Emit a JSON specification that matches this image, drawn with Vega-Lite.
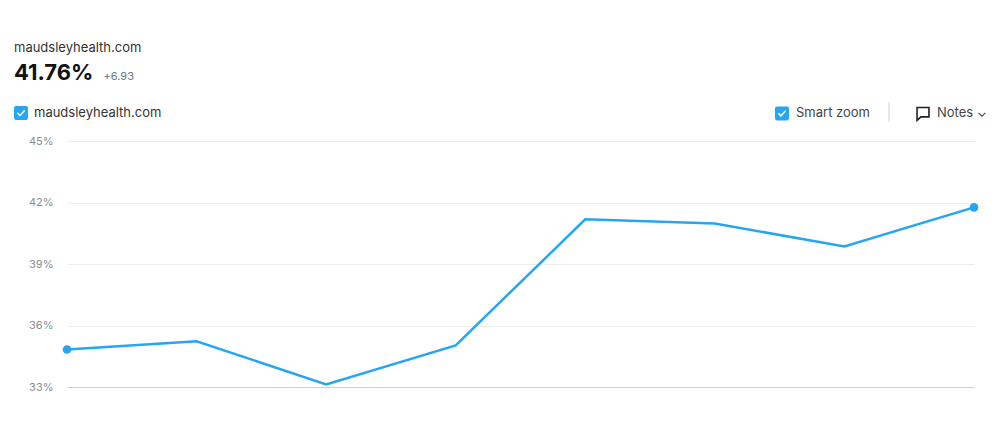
{
  "$schema": "https://vega.github.io/schema/vega-lite/v6.json",
  "autosize": {"type": "none"},
  "width": 907,
  "height": 246,
  "padding": {"left": 67, "top": 141, "right": 26, "bottom": 35},
  "background": "#ffffff",
  "config": {
    "font": "Inter",
    "view": {"stroke": null}
  },
  "title": {
    "text": "maudsleyhealth.com",
    "subtitle": "41.76%",
    "anchor": "start",
    "frame": "group",
    "dx": -53,
    "offset": -14,
    "font": "Inter",
    "fontSize": 13,
    "fontWeight": "normal",
    "color": "#333333",
    "subtitleFont": "Inter",
    "subtitleFontSize": 22,
    "subtitleFontWeight": "bold",
    "subtitleColor": "#111111",
    "subtitlePadding": 8
  },
  "data": {
    "values": [
      {"site": "maudsleyhealth.com", "index": 1, "share": 34.83},
      {"site": "maudsleyhealth.com", "index": 2, "share": 35.23},
      {"site": "maudsleyhealth.com", "index": 3, "share": 33.13},
      {"site": "maudsleyhealth.com", "index": 4, "share": 35.03},
      {"site": "maudsleyhealth.com", "index": 5, "share": 41.18},
      {"site": "maudsleyhealth.com", "index": 6, "share": 40.97},
      {"site": "maudsleyhealth.com", "index": 7, "share": 39.86},
      {"site": "maudsleyhealth.com", "index": 8, "share": 41.76}
    ]
  },
  "encoding": {
    "x": {
      "field": "index",
      "type": "quantitative",
      "scale": {"domain": [1, 8], "nice": false, "zero": false},
      "axis": {
        "title": null,
        "labels": false,
        "ticks": false,
        "grid": false,
        "domain": true,
        "domainColor": "#cfcfcf",
        "domainWidth": 1
      }
    },
    "y": {
      "field": "share",
      "type": "quantitative",
      "scale": {"domain": [33, 45], "nice": false, "zero": false},
      "axis": {
        "values": [33, 36, 39, 42, 45],
        "labelExpr": "datum.value + '%'",
        "labelFont": "Inter",
        "labelFontSize": 11,
        "labelColor": "#8c8c8c",
        "labelPadding": 14,
        "ticks": false,
        "domain": false,
        "gridColor": "#ececec",
        "gridWidth": 1,
        "title": "+6.93",
        "titleAngle": 0,
        "titleAlign": "left",
        "titleBaseline": "alphabetic",
        "titleX": 36,
        "titleY": -62,
        "titleFont": "Inter",
        "titleFontSize": 11,
        "titleFontWeight": "normal",
        "titleColor": "#6b7a89"
      }
    }
  },
  "layer": [
    {
      "mark": {"type": "line", "color": "#26a6f2", "strokeWidth": 2.5, "strokeJoin": "miter"}
    },
    {
      "transform": [{"filter": "datum.index == 1 || datum.index == 8"}],
      "mark": {"type": "point", "filled": true, "size": 75, "opacity": 1},
      "encoding": {
        "color": {
          "field": "site",
          "type": "nominal",
          "scale": {"range": ["#26a6f2"]},
          "legend": {
            "title": null,
            "orient": "none",
            "legendX": -53,
            "legendY": -35,
            "symbolType": "M-1,-0.7Q-1,-1,-0.7,-1H0.7Q1,-1,1,-0.7V0.7Q1,1,0.7,1H-0.7Q-1,1,-1,0.7Z M-0.6,0.05L-0.15,0.5L0.6,-0.3L0.45,-0.45L-0.15,0.2L-0.45,-0.1Z",
            "symbolSize": 196,
            "symbolStrokeWidth": 0,
            "symbolOpacity": 1,
            "labelFont": "Inter",
            "labelFontSize": 13,
            "labelColor": "#333333",
            "labelOffset": 6
          }
        }
      }
    },
    {
      "mark": {"type": "point", "opacity": 0, "strokeWidth": 1.6},
      "encoding": {
        "x": {"value": 0},
        "y": {"value": 0},
        "shape": {
          "datum": "Smart zoom",
          "scale": {
            "domain": ["Smart zoom", "sep", "Notes ⌄"],
            "range": [
              "M-1,-0.7Q-1,-1,-0.7,-1H0.7Q1,-1,1,-0.7V0.7Q1,1,0.7,1H-0.7Q-1,1,-1,0.7Z M-0.6,0.05L-0.15,0.5L0.6,-0.3L0.45,-0.45L-0.15,0.2L-0.45,-0.1Z",
              "M0,-1.4V1.4",
              "M-0.85,-0.85H0.85V0.5H-0.3L-0.85,1Z"
            ]
          },
          "legend": {
            "title": null,
            "orient": "none",
            "direction": "horizontal",
            "legendX": 707,
            "legendY": -37,
            "symbolSize": 196,
            "symbolStrokeWidth": 1.6,
            "symbolOpacity": 1,
            "columnPadding": 10,
            "labelOffset": 6,
            "labelFont": "Inter",
            "labelFontSize": 13,
            "labelColor": "#444444",
            "labelExpr": "datum.value == 'sep' ? '' : datum.value"
          }
        },
        "fill": {
          "datum": "Smart zoom",
          "scale": {
            "domain": ["Smart zoom", "sep", "Notes ⌄"],
            "range": ["#26a6f2", "transparent", "transparent"]
          },
          "legend": null
        },
        "stroke": {
          "datum": "Smart zoom",
          "scale": {
            "domain": ["Smart zoom", "sep", "Notes ⌄"],
            "range": ["transparent", "#e2e2e2", "#222222"]
          },
          "legend": null
        }
      }
    }
  ]
}
